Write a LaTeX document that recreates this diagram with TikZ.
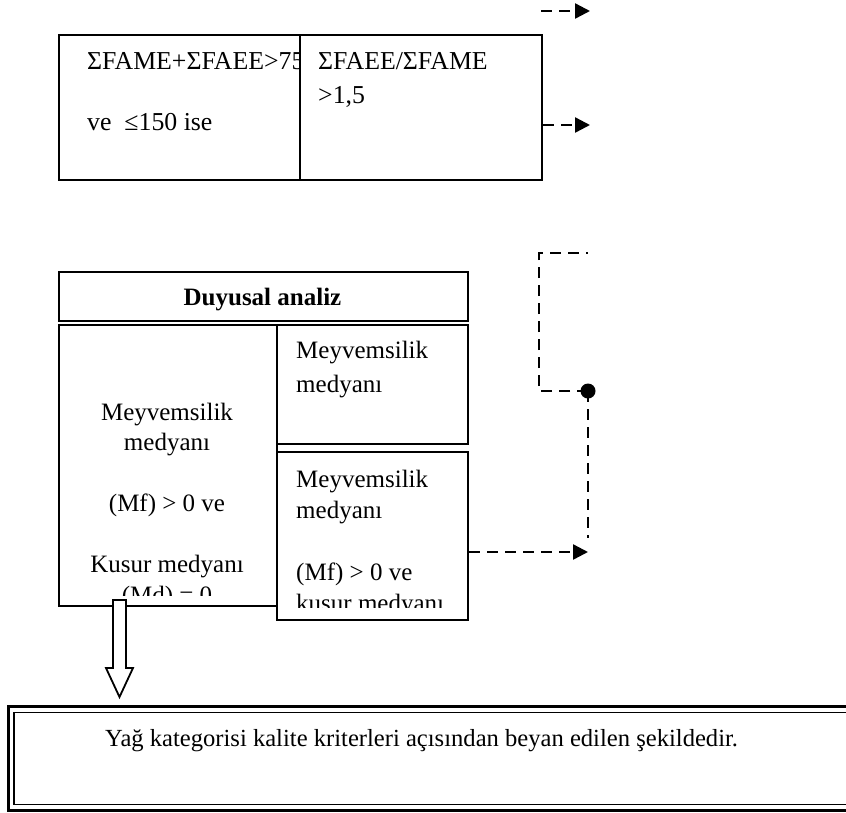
\documentclass[tikz,border=0pt]{standalone}
\usepackage{fontspec}
\setmainfont{Liberation Serif}
\usetikzlibrary{arrows.meta}

% stacked lines with a fixed baseline distance; the node baseline is the first line's
\newcommand{\leftlines}[2]{\vtop{\baselineskip=#1\relax\lineskiplimit=-100pt #2}}
\newcommand{\centerlines}[2]{\vtop{\baselineskip=#1\relax\lineskiplimit=-100pt\halign{\hfil##\hfil\cr#2\crcr}}}

\tikzset{
  panel/.style={draw, line width=2pt, fill=white, anchor=north west, inner sep=0pt},
  label/.style={inner sep=0pt, font=\fontsize{25}{30}\selectfont},
  flow/.style={line width=2.4pt, dash pattern=on 11pt off 7pt},
  flowarrow/.style={flow, -{Triangle[length=15pt,width=15pt]}},
}

\begin{document}
\begin{tikzpicture}[x=1pt,y=-1pt]
\clip (0,0) rectangle (846,812);

% --- FAME / FAEE criteria ---
\node[panel, minimum width=266, minimum height=145] (fameL) at (58,34) {};
\node[label, anchor=base west, font=\fontsize{25.8}{30}\selectfont] (fameLtext) at (87,69)
  {\leftlines{30.5pt}{\hbox{ΣFAME+ΣFAEE>75}\hbox{}\hbox{ve\ \ ≤150 ise}}};
\node[panel, minimum width=242, minimum height=145] (fameR) at (299,34) {};
\node[label, anchor=base west, font=\fontsize{25.8}{30}\selectfont] (fameRtext) at (318,69)
  {\leftlines{34pt}{\hbox{ΣFAEE/ΣFAME}\hbox{>1,5}}};

% --- sensory analysis ---
\node[panel, minimum width=409, minimum height=49] (duyusal) at (58,271) {};
\node[label, anchor=base, font=\fontsize{25}{30}\selectfont\bfseries] (duyusalText) at (262.5,305) {Duyusal analiz};

\node[panel, minimum width=218, minimum height=281] (mfBig) at (58,324) {};
\begin{scope}
  \clip (58,324) rectangle (276,595);
  \node[label, anchor=base] (mfBigText) at (167,420)
    {\centerlines{30.5pt}{Meyvemsilik\cr medyanı\cr\cr (Mf) > 0 ve\cr\cr Kusur medyanı\cr (Md) = 0}};
\end{scope}

\node[panel, minimum width=191, minimum height=119] (mfTop) at (276,324) {};
\node[label, anchor=base west] (mfTopText) at (296,358)
  {\leftlines{34pt}{\hbox{Meyvemsilik}\hbox{medyanı}}};

\node[panel, minimum width=191, minimum height=168] (mfBot) at (276,451) {};
\begin{scope}
  \clip (276,451) rectangle (467,607);
  \node[label, anchor=base west] (mfBotText) at (296,487)
    {\leftlines{31pt}{\hbox{Meyvemsilik}\hbox{medyanı}\hbox{}\hbox{(Mf) > 0 ve}\hbox{kusur medyanı}}};
\end{scope}

% --- result ---
\node[draw, line width=3pt, anchor=north west, inner sep=0pt, minimum width=880, minimum height=104] (result) at (7,705) {};
\node[draw, line width=1.5pt, anchor=north west, inner sep=0pt, minimum width=870, minimum height=92] (resultInner) at (13,711.5) {};
\node[inner sep=0pt, anchor=base west, font=\fontsize{24.6}{30}\selectfont] (resultText) at (105,746)
  {Yağ kategorisi kalite kriterleri açısından beyan edilen şekildedir.};

% hollow block arrow down to the result
\coordinate (downTop) at (119.5,600);
\coordinate (downTip) at (119.5,697);
\draw[line width=1.8pt, fill=white, line join=miter]
  (downTop) ++(-6.5,0) -- ++(13,0) -- ++(0,68) -- ++(7,0) -- (downTip)
  -- ++(-13.5,-29) -- ++(7,0) -- cycle;

% --- dashed flow lines ---
\coordinate (startA) at (541,11);
\coordinate (tipA) at (590,11);
\coordinate (tipB) at (590,125);
\coordinate (tipC) at (588,552);
\coordinate (loopEnd) at (588,253);
\node[circle, fill, inner sep=0pt, minimum size=15] (dot) at (588,391) {};

\draw[flowarrow] (startA) -- (tipA);
\draw[flowarrow] (fameR.east |- tipB) -- (tipB);
\draw[flowarrow] (mfBot.east |- tipC) -- (tipC);
\draw[flow] (dot.center) -- ([yshift=14pt]tipC);
\draw[flow] (dot.center) -- ++(-49,0) |- (loopEnd);

\end{tikzpicture}
\end{document}
